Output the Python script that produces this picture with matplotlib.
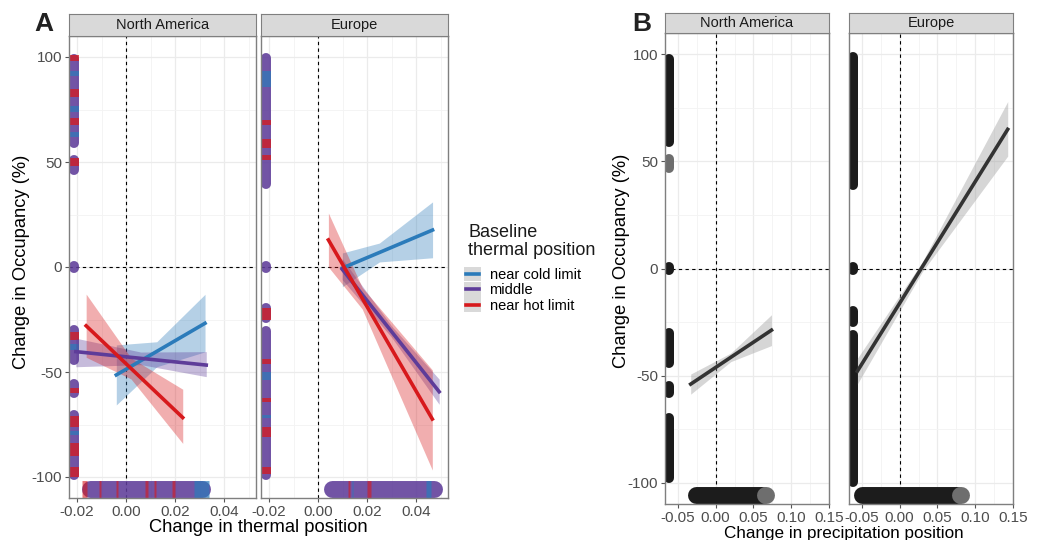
import matplotlib.pyplot as plt
from matplotlib.patches import Rectangle
from matplotlib.lines import Line2D
from matplotlib.ticker import MultipleLocator

plt.rcParams['font.family'] = ['Liberation Sans', 'DejaVu Sans']
plt.rcParams['axes.unicode_minus'] = False

W, H = 1038, 540

regions = ['North America', 'Europe']
groups = ['near cold limit', 'middle', 'near hot limit']
group_colors = ['#2b7bba', '#5e3c99', '#d7191c']

# ---- panel A: thermal position, fitted lines + CI (cold, middle, hot)
a_na_x = [[-0.004, 0.0125, 0.0322], [-0.0205, 0.006, 0.0327], [-0.0163, 0.002, 0.0231]]
a_na_fit = [[-51.4, -40.2, -26.8], [-40.3, -43.5, -46.7], [-28.0, -48.3, -71.7]]
a_na_lo = [[-65.7, -47.5, -40.4], [-47.5, -46.5, -52.2], [-43.0, -53.3, -84.0]]
a_na_hi = [[-37.1, -35.6, -13.0], [-33.9, -40.5, -40.3], [-12.9, -43.3, -58.2]]

a_eu_x = [[0.0099, 0.025, 0.0467], [0.0098, 0.03, 0.0494], [0.0042, 0.018, 0.0466]]
a_eu_fit = [[-0.5, 6.9, 17.6], [-1.0, -30.8, -59.4], [12.9, -14.9, -72.4]]
a_eu_lo = [[-9.4, 2.4, 4.4], [-6.0, -33.5, -65.4], [0.0, -20.0, -96.7]]
a_eu_hi = [[6.7, 11.4, 31.0], [4.0, -28.1, -53.4], [25.7, -9.8, -49.0]]

# rug of observations along the margins (middle = base band, hot/cold = stripes)
a_rug_x, a_rug_y = -0.0213, -105.7
a_na_vrug_mid = [(59, 99), (46, 51), (-0.5, 0.5), (-44.5, -30), (-60, -55.5), (-99, -70.5)]
a_na_vrug_hot = [(98, 101), (81, 85), (67.5, 71), (48, 52), (-34.8, -30.8), (-60, -57.5),
                 (-76, -71), (-90, -84), (-100, -95)]
a_na_vrug_cold = [(91, 93.5), (74, 76.5), (62, 64.5), (-39.5, -36.5), (-80, -78)]
a_na_hrug_mid = [(-0.0147, 0.0309)]
a_na_hrug_hot = [(-0.0181, -0.0160), (-0.0111, -0.0101), (-0.0043, -0.0033), (0.0079, 0.0089),
                 (0.0113, 0.0123), (0.0188, 0.0198)]
a_na_hrug_cold = [(0.0275, 0.0340)]

a_eu_vrug_mid = [(39.5, 99.5), (-0.5, 0.5), (-24.5, -19.5), (-99, -30.5)]
a_eu_vrug_hot = [(67.5, 70), (56.5, 61), (51, 53.5), (-25, -19.7), (-46, -44), (-64.5, -62.5),
                 (-81, -76), (-98.5, -95)]
a_eu_vrug_cold = [(85.5, 93.5), (-54, -50), (-72, -70.5)]
a_eu_hrug_mid = [(0.0058, 0.0473)]
a_eu_hrug_hot = [(0.0122, 0.0132), (0.0200, 0.0215)]
a_eu_hrug_cold = [(0.0137, 0.0143), (0.0440, 0.0460)]

# ---- panel B: precipitation position
b_na_x = [-0.033, 0.02, 0.0739]
b_na_fit = [-54.0, -41.5, -28.8]
b_na_lo = [-58.7, -43.5, -36.0]
b_na_hi = [-49.3, -39.5, -21.6]
b_eu_x = [-0.056, 0.03, 0.143]
b_eu_fit = [-48.0, 0.8, 65.0]
b_eu_lo = [-54.0, -1.5, 52.5]
b_eu_hi = [-42.0, 3.1, 78.0]

b_rug_x, b_rug_y = -0.0611, -105.8
b_na_vrug = [(59, 98), (-0.5, 0.5), (-44, -30), (-58, -55), (-98, -70)]
b_na_vrug_light = [(47, 51)]
b_na_hrug = [(-0.0254, 0.061)]
b_na_hrug_light = [(0.0655, 0.0661)]
b_eu_vrug = [(39, 98.6), (-0.5, 0.5), (-25, -20), (-99.5, -31)]
b_eu_hrug = [(-0.0493, 0.0756)]
b_eu_hrug_light = [(0.0800, 0.0806), (0.1005, 0.1011), (0.1417, 0.1423)]


def box(x0, y0, x1, y1):
    return [x0 / W, 1 - y1 / H, (x1 - x0) / W, (y1 - y0) / H]


def style(ax, xlim, xmin, xticks, showy):
    ax.set_xlim(*xlim)
    ax.set_ylim(-110, 110)
    ax.set_xticks(xticks)
    ax.set_xticklabels(['%.2f' % t for t in xticks])
    ax.xaxis.set_minor_locator(MultipleLocator(xmin))
    ax.set_yticks([-100, -50, 0, 50, 100])
    ax.yaxis.set_minor_locator(MultipleLocator(25))
    ax.grid(which='major', color='#ebebeb', lw=0.9)
    ax.grid(which='minor', color='#f3f3f3', lw=0.6)
    ax.set_axisbelow(True)
    for s in ax.spines.values():
        s.set_color('#7f7f7f')
        s.set_linewidth(1.0)
        s.set_zorder(6)
    ax.tick_params(which='major', length=3, color='#555555', labelcolor='#4d4d4d',
                   labelsize=11, pad=2)
    ax.tick_params(which='minor', length=0)
    if not showy:
        ax.tick_params(left=False, labelleft=False)
    ax.axvline(0, color='black', lw=0.8, ls=(0, (3, 3)), zorder=2)
    ax.axhline(0, color='black', lw=0.8, ls=(0, (3, 3)), zorder=2)


def strip(ax, y0, y1, label):
    p = ax.get_position()
    s = fig.add_axes(box(p.x0 * W, y0, p.x1 * W, y1))
    s.set_facecolor('#d9d9d9')
    s.set_xticks([])
    s.set_yticks([])
    for sp in s.spines.values():
        sp.set_color('#7f7f7f')
    s.text(0.5, 0.48, label, ha='center', va='center', fontsize=10.5, color='#1a1a1a')


def rug(ax, spans, fixed, vertical, color, alpha, cap):
    # vertical rugs sit half outside the panel in the original, so only the inner half is drawn
    lw = 7.2 if vertical else 12.2
    for a, b in spans:
        xs, ys = ([fixed, fixed], [a, b]) if vertical else ([a, b], [fixed, fixed])
        ax.plot(xs, ys, color=color, lw=lw, alpha=alpha, solid_capstyle=cap, zorder=3)


class KeyHandler:
    def legend_artist(self, legend, orig_handle, fontsize, handlebox):
        x0, y0 = -handlebox.xdescent, -handlebox.ydescent
        w, h = handlebox.width, handlebox.height
        t = handlebox.get_transform()
        bg = Rectangle((x0, y0), w, h, facecolor='#d9d9d9', edgecolor='none', transform=t)
        ln = Line2D([x0 + 0.12 * w, x0 + 0.88 * w], [y0 + h / 2, y0 + h / 2],
                    color=orig_handle.get_color(), lw=2.6, transform=t)
        handlebox.add_artist(bg)
        handlebox.add_artist(ln)
        return ln


fig = plt.figure(figsize=(W / 100, H / 100), dpi=100)

# ---------------- panel A
a_axes = [fig.add_axes(box(69, 36, 256, 498)), fig.add_axes(box(261, 36, 448, 498))]
a_data = [(a_na_x, a_na_fit, a_na_lo, a_na_hi), (a_eu_x, a_eu_fit, a_eu_lo, a_eu_hi)]
a_rugs = [(a_na_vrug_mid, a_na_vrug_hot, a_na_vrug_cold, a_na_hrug_mid, a_na_hrug_hot, a_na_hrug_cold),
          (a_eu_vrug_mid, a_eu_vrug_hot, a_eu_vrug_cold, a_eu_hrug_mid, a_eu_hrug_hot, a_eu_hrug_cold)]
for i, ax in enumerate(a_axes):
    style(ax, (-0.0233, 0.053), 0.01, [-0.02, 0.0, 0.02, 0.04], i == 0)
    vm, vh, vc, hm, hh, hc = a_rugs[i]
    rug(ax, vm, a_rug_x, True, group_colors[1], 0.88, 'round')
    rug(ax, vh, a_rug_x, True, group_colors[2], 0.75, 'butt')
    rug(ax, vc, a_rug_x, True, group_colors[0], 0.7, 'butt')
    rug(ax, hm, a_rug_y, False, group_colors[1], 0.88, 'round')
    rug(ax, hh, a_rug_y, False, group_colors[2], 0.6, 'butt')
    rug(ax, hc, a_rug_y, False, group_colors[0], 0.7, 'butt')
    xs, fit, lo, hi = a_data[i]
    for g in range(3):
        ax.fill_between(xs[g], lo[g], hi[g], color=group_colors[g], alpha=0.35, lw=0, zorder=4)
    for g in range(3):
        ax.plot(xs[g], fit[g], color=group_colors[g], lw=2.6, zorder=5)
    strip(ax, 14, 36, regions[i])

fig.text(258 / W, 1 - 519 / H, 'Change in thermal position', ha='center', va='top', fontsize=13.2)
fig.text(22 / W, 1 - 262 / H, 'Change in Occupancy (%)', ha='center', va='center',
         rotation=90, fontsize=13.2)
fig.text(34 / W, 1 - 31 / H, 'A', fontsize=19, fontweight='bold', color='#222222',
         family=['Liberation Sans Narrow', 'Liberation Sans'])

# legend
fig.text(468 / W, 1 - 224 / H, 'Baseline\nthermal position', ha='left', va='top',
         fontsize=13, linespacing=1.05, color='#1a1a1a')
handles = [Line2D([], [], color=c) for c in group_colors]
fig.legend(handles, groups, handler_map={Line2D: KeyHandler()},
           loc='upper left', bbox_to_anchor=(464 / W, 1 - 267 / H), frameon=False,
           handlelength=1.15, handleheight=1.15, labelspacing=0, handletextpad=0.6,
           fontsize=10.5, borderaxespad=0, borderpad=0)

# ---------------- panel B
b_axes = [fig.add_axes(box(665, 33, 829, 504)), fig.add_axes(box(849, 33, 1013, 504))]
b_data = [(b_na_x, b_na_fit, b_na_lo, b_na_hi), (b_eu_x, b_eu_fit, b_eu_lo, b_eu_hi)]
b_rugs = [(b_na_vrug, b_na_vrug_light, b_na_hrug, b_na_hrug_light),
          (b_eu_vrug, [], b_eu_hrug, b_eu_hrug_light)]
for i, ax in enumerate(b_axes):
    style(ax, (-0.067, 0.15), 0.025, [-0.05, 0.0, 0.05, 0.10, 0.15], i == 0)
    v, vl, h, hl = b_rugs[i]
    rug(ax, v, b_rug_x, True, '#1c1c1c', 1.0, 'round')
    rug(ax, vl, b_rug_x, True, '#6e6e6e', 1.0, 'round')
    rug(ax, h, b_rug_y, False, '#1c1c1c', 1.0, 'round')
    rug(ax, hl, b_rug_y, False, '#6e6e6e', 1.0, 'round')
    xs, fit, lo, hi = b_data[i]
    ax.fill_between(xs, lo, hi, color='#999999', alpha=0.4, lw=0, zorder=4)
    ax.plot(xs, fit, color='#333333', lw=2.6, zorder=5)
    strip(ax, 13, 33, regions[i])

fig.text(844 / W, 1 - 526 / H, 'Change in precipitation position', ha='center', va='top', fontsize=12.3)
fig.text(622 / W, 1 - 261 / H, 'Change in Occupancy (%)', ha='center', va='center',
         rotation=90, fontsize=13.2)
fig.text(632 / W, 1 - 31 / H, 'B', fontsize=19, fontweight='bold', color='#222222',
         family=['Liberation Sans Narrow', 'Liberation Sans'])

fig.savefig('out.png', dpi=100)
